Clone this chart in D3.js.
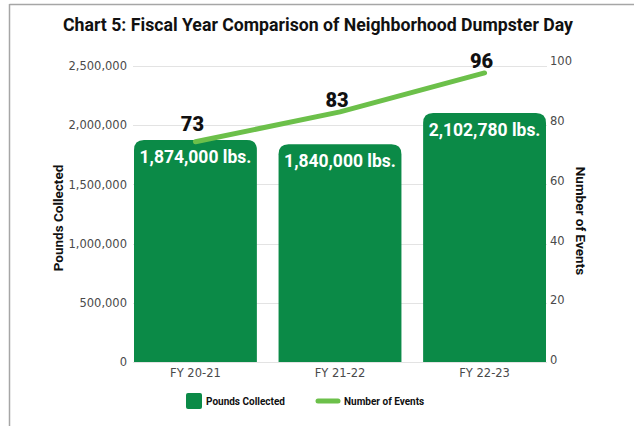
<!DOCTYPE html>
<html>
<head>
<meta charset="utf-8">
<script src="https://cdn.jsdelivr.net/npm/d3@7"></script>
<style>
  html, body { margin: 0; padding: 0; background: #fff; }
  svg { display: block; }
</style>
</head>
<body>
<svg id="chart" width="634" height="426"></svg>
<script>
// Fiscal-year data
const categories = ["FY 20-21", "FY 21-22", "FY 22-23"];
const poundsCollected = [1874000, 1840000, 2102780];
const numberOfEvents = [73, 83, 96];
const leftTicks = [0, 500000, 1000000, 1500000, 2000000, 2500000];
const rightTicks = [0, 20, 40, 60, 80, 100];

const barColor = "#0b8a47";
const lineColor = "#6cc04a";
const tickColor = "#4a4a4a";

const svg = d3.select("#chart");

// frame lines on the top and left edge
svg.append("line").attr("x1", 9.5).attr("x2", 634).attr("y1", 4.5).attr("y2", 4.5)
  .attr("stroke", "#a6a6a6").attr("stroke-width", 1.5);
svg.append("line").attr("x1", 9.5).attr("x2", 9.5).attr("y1", 4).attr("y2", 426)
  .attr("stroke", "#a6a6a6").attr("stroke-width", 1.5);

// title
svg.append("text")
  .attr("x", 318).attr("y", 31)
  .attr("text-anchor", "middle")
  .attr("font-family", "Roboto, sans-serif")
  .attr("font-weight", 700)
  .attr("font-size", 18)
  .attr("textLength", 510)
  .attr("lengthAdjust", "spacingAndGlyphs")
  .attr("fill", "#111")
  .text("Chart 5: Fiscal Year Comparison of Neighborhood Dumpster Day");

// scales
const x = d3.scaleBand().domain(categories).range([134, 546]).paddingInner(0.15).paddingOuter(0);
const yLeft = d3.scaleLinear().domain([0, 2500000]).range([362, 66]);
const yRight = d3.scaleLinear().domain([0, 100]).range([360, 61]);

// gridlines
svg.append("g").selectAll("line").data(leftTicks).join("line")
  .attr("x1", 133).attr("x2", 547)
  .attr("y1", d => Math.round(yLeft(d)) + 0.5).attr("y2", d => Math.round(yLeft(d)) + 0.5)
  .attr("stroke", "#e3e3e3").attr("stroke-width", 1);

// left axis
const leftAxis = svg.append("g").attr("transform", "translate(127,0)")
  .call(d3.axisLeft(yLeft).tickValues(leftTicks).tickSize(0).tickPadding(0).tickFormat(d3.format(",")));
leftAxis.select(".domain").remove();
leftAxis.selectAll("text")
  .attr("font-family", "'DejaVu Sans', sans-serif").attr("font-size", 11.5).attr("fill", tickColor);

// right axis
const rightAxis = svg.append("g").attr("transform", "translate(550,0)")
  .call(d3.axisRight(yRight).tickValues(rightTicks).tickSize(0).tickPadding(0));
rightAxis.select(".domain").remove();
rightAxis.selectAll("text")
  .attr("font-family", "'DejaVu Sans', sans-serif").attr("font-size", 11.5).attr("fill", tickColor);

// bottom axis
const bottomAxis = svg.append("g").attr("transform", "translate(0,366)")
  .call(d3.axisBottom(x).tickSize(0).tickPadding(0));
bottomAxis.select(".domain").remove();
bottomAxis.selectAll("text")
  .attr("font-family", "'DejaVu Sans', sans-serif").attr("font-size", 11.5).attr("fill", tickColor)
  .attr("dy", "0.95em");

// axis titles
svg.append("text")
  .attr("transform", "translate(63,218) rotate(-90)")
  .attr("text-anchor", "middle")
  .attr("font-family", "Roboto, sans-serif").attr("font-weight", 700).attr("font-size", 13.5)
  .attr("fill", "#111")
  .text("Pounds Collected");
svg.append("text")
  .attr("transform", "translate(576,221) rotate(90)")
  .attr("text-anchor", "middle")
  .attr("font-family", "Roboto, sans-serif").attr("font-weight", 700).attr("font-size", 13.5)
  .attr("fill", "#111")
  .text("Number of Events");

// bars with rounded top corners
function topRoundedRect(x0, y0, w, h, r) {
  r = Math.min(r, h, w / 2);
  return `M${x0},${y0 + h}V${y0 + r}Q${x0},${y0} ${x0 + r},${y0}H${x0 + w - r}Q${x0 + w},${y0} ${x0 + w},${y0 + r}V${y0 + h}Z`;
}
const barData = categories.map((c, i) => ({ c, v: poundsCollected[i], e: numberOfEvents[i] }));
svg.append("g").selectAll("path").data(barData).join("path")
  .attr("d", d => topRoundedRect(x(d.c), yLeft(d.v), x.bandwidth(), yLeft(0) - yLeft(d.v), 10))
  .attr("fill", barColor);

// bar value labels
svg.append("g").selectAll("text").data(barData).join("text")
  .attr("x", d => x(d.c) + x.bandwidth() / 2)
  .attr("y", d => yLeft(d.v) + 23)
  .attr("text-anchor", "middle")
  .attr("font-family", "Roboto, sans-serif").attr("font-weight", 700).attr("font-size", 17.5)
  .attr("fill", "#fff")
  .text(d => d3.format(",")(d.v) + " lbs.");

// events line
const line = d3.line()
  .x(d => x(d.c) + x.bandwidth() / 2)
  .y(d => yRight(d.e));
svg.append("path")
  .datum(barData)
  .attr("d", line)
  .attr("fill", "none")
  .attr("stroke", lineColor)
  .attr("stroke-width", 5)
  .attr("stroke-linecap", "round")
  .attr("stroke-linejoin", "round");

// event count labels
const labelLift = [11, 5, 5];
svg.append("g").selectAll("text").data(barData).join("text")
  .attr("x", d => x(d.c) + x.bandwidth() / 2 - 3)
  .attr("y", (d, i) => yRight(d.e) - labelLift[i])
  .attr("text-anchor", "middle")
  .attr("font-family", "Roboto, sans-serif").attr("font-weight", 900).attr("font-size", 20)
  .attr("fill", "#111")
  .text(d => d.e);

// legend
const legend = svg.append("g");
legend.append("rect").attr("x", 186).attr("y", 393).attr("width", 16).attr("height", 16)
  .attr("rx", 2).attr("fill", barColor);
legend.append("text").attr("x", 206).attr("y", 404.5)
  .attr("font-family", "Roboto, sans-serif").attr("font-weight", 700).attr("font-size", 10)
  .attr("fill", "#111").text("Pounds Collected");
legend.append("line").attr("x1", 318).attr("x2", 338).attr("y1", 401).attr("y2", 401)
  .attr("stroke", lineColor).attr("stroke-width", 5).attr("stroke-linecap", "round");
legend.append("text").attr("x", 344).attr("y", 404.5)
  .attr("font-family", "Roboto, sans-serif").attr("font-weight", 700).attr("font-size", 10)
  .attr("fill", "#111").text("Number of Events");
</script>
</body>
</html>
